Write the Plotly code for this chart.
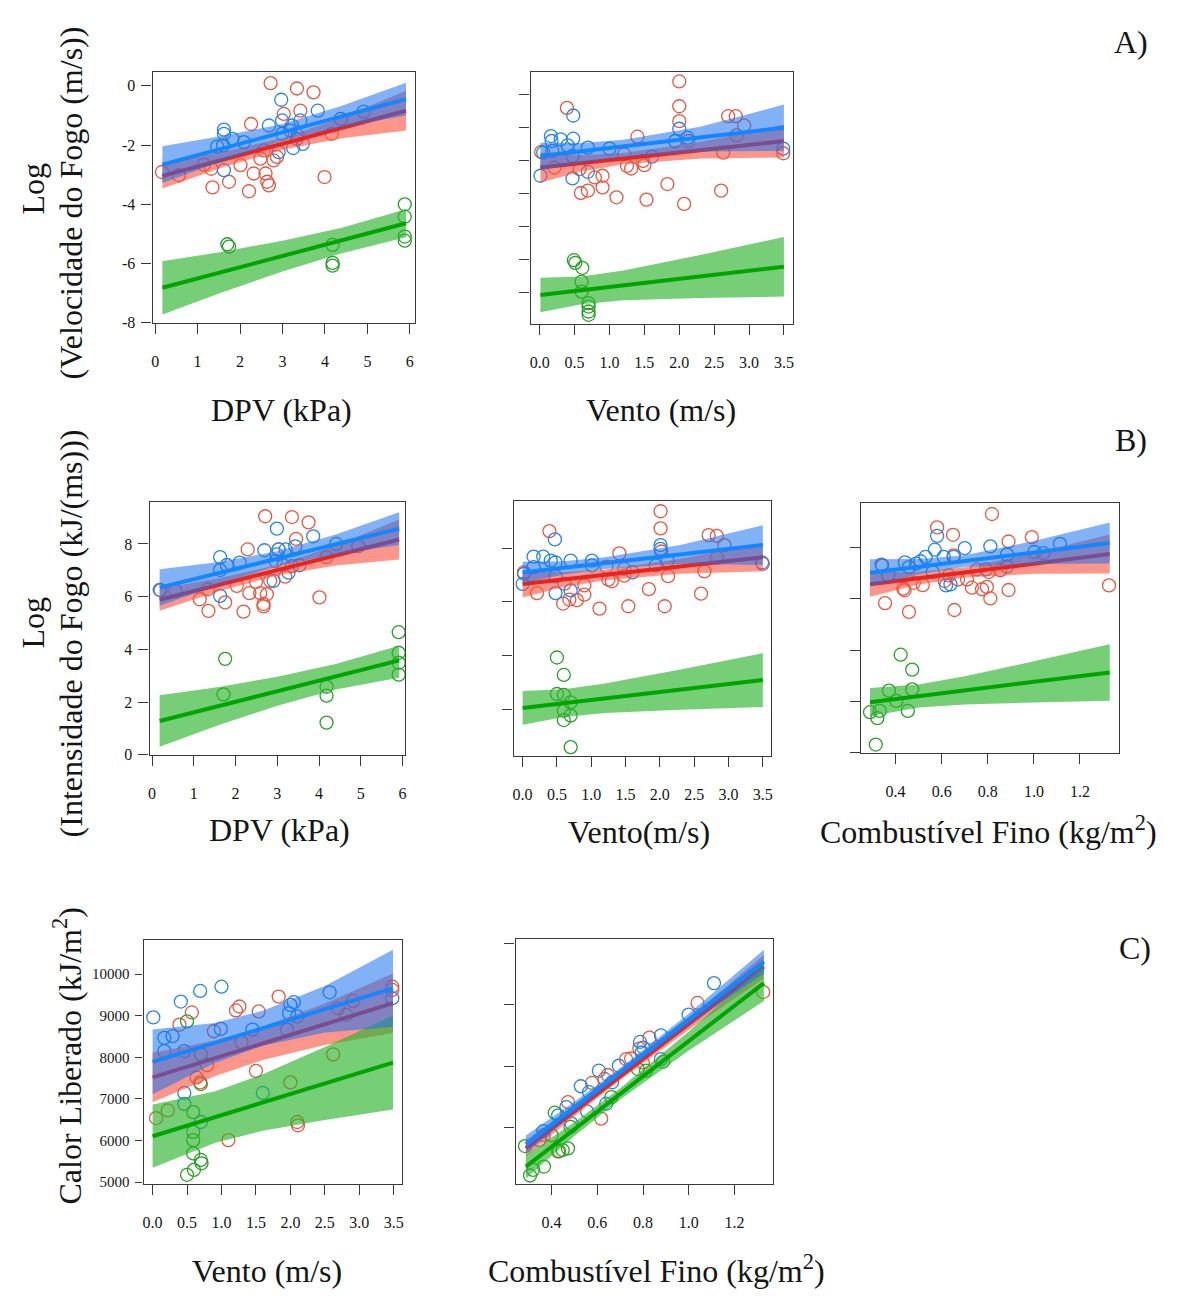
import plotly.graph_objects as go

# ===================== A1: Log(Velocidade do Fogo) x DPV =====================
A1_BLUE_X = [1.62, 1.62, 1.60, 1.62, 1.46, 1.82, 2.09, 2.68, 2.97, 2.99, 2.99, 3.22, 3.25, 3.34, 3.42, 3.48, 2.91, 3.83, 4.37, 4.91, 3.18]
A1_BLUE_Y = [-1.48, -1.62, -2.01, -2.85, -2.05, -1.79, -1.90, -1.34, -0.47, -1.17, -1.62, -1.34, -2.10, -1.79, -1.17, -1.96, -2.24, -0.84, -1.12, -0.87, -1.51]
A1_RED_X = [0.16, 0.56, 1.15, 1.32, 1.35, 1.74, 2.01, 2.21, 2.26, 2.32, 2.48, 2.56, 2.60, 2.64, 2.68, 2.72, 2.79, 2.87, 3.03, 3.34, 3.42, 3.73, 3.99, 4.16, 3.36]
A1_RED_Y = [-2.91, -3.02, -2.66, -2.80, -3.43, -3.24, -2.68, -3.56, -1.29, -2.96, -2.46, -2.18, -2.96, -3.24, -3.36, 0.09, -2.52, -2.40, -0.95, -0.09, -0.84, -0.22, -3.08, -1.62, -1.68]
A1_GREEN_X = [1.70, 1.74, 4.18, 4.18, 4.18, 5.88, 5.88, 5.88, 5.88]
A1_GREEN_Y = [-5.35, -5.43, -5.37, -5.98, -6.07, -4.00, -4.42, -5.09, -5.23]
A1_BAND_X = [0.17, 1.6, 3.0, 4.4, 5.91]
A1_BLUE_FIT = [-2.66, -2.11, -1.57, -1.03, -0.45]
A1_BLUE_HI = [-2.04, -1.69, -1.29, -0.67, 0.10]
A1_BLUE_LO = [-3.28, -2.53, -1.85, -1.39, -1.00]
A1_RED_FIT = [-3.04, -2.49, -1.96, -1.42, -0.84]
A1_RED_HI = [-2.61, -2.23, -1.76, -1.07, -0.17]
A1_RED_LO = [-3.47, -2.75, -2.16, -1.77, -1.51]
A1_GREEN_FIT = [-6.82, -6.28, -5.75, -5.22, -4.64]
A1_GREEN_HI = [-5.92, -5.60, -5.23, -4.79, -4.17]
A1_GREEN_LO = [-7.72, -6.96, -6.27, -5.65, -5.11]
A1_XTICKS = [0, 1, 2, 3, 4, 5, 6]
A1_YTICKS = [0, -2, -4, -6, -8]

# ===================== A2: Log(Velocidade do Fogo) x Vento =====================
A2_BLUE_X = [0.01, 0.05, 0.16, 0.17, 0.18, 0.30, 0.40, 0.48, 0.48, 0.47, 0.47, 0.69, 0.69, 1.00, 1.61, 1.94, 2.00, 2.12, 3.49]
A2_BLUE_Y = [-2.47, -1.77, -1.27, -1.42, -1.72, -1.37, -1.55, -1.35, -0.65, -1.87, -2.55, -1.62, -2.35, -1.65, -1.89, -1.42, -1.05, -1.32, -1.65]
A2_RED_X = [0.02, 0.21, 0.39, 0.57, 0.59, 0.69, 0.79, 0.90, 0.90, 1.10, 1.21, 1.25, 1.31, 1.40, 1.48, 1.50, 1.53, 1.83, 2.00, 2.00, 2.00, 2.07, 2.13, 2.60, 2.63, 2.70, 2.81, 2.82, 2.93, 3.49]
A2_RED_Y = [-1.75, -2.22, -0.42, -2.27, -2.99, -2.92, -2.52, -2.47, -2.82, -3.12, -1.82, -2.17, -2.25, -1.29, -2.02, -2.15, -3.19, -2.72, 0.38, -0.37, -0.82, -3.32, -1.42, -2.92, -1.77, -0.67, -0.67, -1.25, -0.95, -1.79]
A2_GREEN_X = [0.49, 0.51, 0.61, 0.60, 0.60, 0.70, 0.70, 0.70, 0.70]
A2_GREEN_Y = [-5.02, -5.10, -5.25, -5.67, -5.97, -6.32, -6.42, -6.57, -6.67]
A2_BAND_X = [0.01, 0.6, 1.2, 2.3, 3.5]
A2_BLUE_FIT = [-1.87, -1.73, -1.58, -1.31, -1.02]
A2_BLUE_HI = [-1.47, -1.48, -1.38, -0.99, -0.32]
A2_BLUE_LO = [-2.30, -2.08, -1.90, -1.74, -1.72]
A2_RED_FIT = [-2.22, -2.09, -1.95, -1.70, -1.42]
A2_RED_HI = [-1.77, -1.84, -1.78, -1.45, -0.92]
A2_RED_LO = [-2.67, -2.34, -2.12, -1.95, -1.92]
A2_GREEN_FIT = [-6.07, -5.93, -5.78, -5.51, -5.22]
A2_GREEN_HI = [-5.55, -5.51, -5.33, -4.86, -4.32]
A2_GREEN_LO = [-6.59, -6.35, -6.23, -6.16, -6.12]
A2_XTICKS = [0.0, 0.5, 1.0, 1.5, 2.0, 2.5, 3.0, 3.5]
A2_YTICKS = [0, -1, -2, -3, -4, -5, -6]

# ===================== B1: Log(Intensidade do Fogo) x DPV =====================
B1_BLUE_X = [0.18, 1.63, 1.63, 1.63, 1.79, 2.10, 2.69, 2.99, 2.99, 3.03, 2.91, 3.20, 3.43, 3.27, 3.35, 3.53, 3.86, 4.41, 4.94, 2.96]
B1_BLUE_Y = [6.26, 7.50, 7.01, 6.03, 7.20, 7.29, 7.76, 8.58, 7.60, 7.79, 6.60, 7.79, 7.91, 6.91, 7.16, 7.19, 8.29, 8.00, 7.91, 7.35]
B1_RED_X = [0.20, 0.56, 1.14, 1.34, 1.35, 1.75, 2.03, 2.19, 2.29, 2.33, 2.49, 2.59, 2.67, 2.67, 2.71, 2.75, 2.83, 3.03, 3.19, 3.35, 3.45, 3.75, 4.01, 4.18, 3.15]
B1_RED_Y = [6.24, 6.22, 5.90, 6.28, 5.46, 5.78, 6.41, 5.43, 7.79, 6.13, 6.56, 6.13, 5.72, 5.63, 9.05, 6.09, 6.60, 7.79, 6.76, 9.02, 8.19, 8.82, 5.97, 7.50, 7.19]
B1_GREEN_X = [1.75, 1.71, 4.18, 4.18, 4.18, 5.91, 5.91, 5.91, 5.91]
B1_GREEN_Y = [3.64, 2.29, 2.58, 2.24, 1.22, 4.65, 3.87, 3.49, 3.04]
B1_BAND_X = [0.18, 1.6, 3.0, 4.4, 5.92]
B1_BLUE_FIT = [6.34, 6.89, 7.44, 7.98, 8.58]
B1_BLUE_HI = [7.04, 7.31, 7.72, 8.36, 9.20]
B1_BLUE_LO = [5.64, 6.47, 7.16, 7.60, 7.96]
B1_RED_FIT = [5.88, 6.45, 7.00, 7.56, 8.17]
B1_RED_HI = [6.30, 6.70, 7.20, 7.94, 8.93]
B1_RED_LO = [5.46, 6.20, 6.80, 7.18, 7.41]
B1_GREEN_FIT = [1.28, 1.85, 2.41, 2.96, 3.58]
B1_GREEN_HI = [2.26, 2.57, 2.96, 3.44, 4.14]
B1_GREEN_LO = [0.30, 1.13, 1.86, 2.48, 2.92]
B1_XTICKS = [0, 1, 2, 3, 4, 5, 6]
B1_YTICKS = [0, 2, 4, 6, 8]

# ===================== B2: Log(Intensidade do Fogo) x Vento =====================
B2_BLUE_X = [0.00, 0.02, 0.16, 0.16, 0.30, 0.41, 0.47, 0.48, 0.48, 0.48, 0.70, 0.70, 1.01, 1.01, 1.60, 1.94, 2.01, 2.01, 2.11, 3.49]
B2_BLUE_Y = [6.67, 7.05, 7.30, 7.69, 7.69, 7.54, 8.33, 7.47, 6.95, 6.33, 7.54, 6.43, 7.54, 7.36, 7.10, 7.36, 8.12, 7.98, 7.54, 7.47]
B2_RED_X = [0.02, 0.21, 0.39, 0.59, 0.61, 0.68, 0.79, 0.90, 0.90, 1.12, 1.22, 1.25, 1.30, 1.41, 1.48, 1.48, 1.54, 1.84, 2.01, 2.01, 2.02, 2.07, 2.12, 2.60, 2.65, 2.71, 2.83, 2.83, 2.94, 3.50]
B2_RED_Y = [7.10, 6.33, 8.64, 5.94, 6.68, 6.09, 6.07, 6.62, 6.27, 5.75, 7.32, 6.83, 6.77, 7.81, 7.23, 6.98, 5.84, 6.48, 9.38, 8.74, 7.88, 5.84, 6.96, 6.31, 7.14, 8.49, 8.46, 7.65, 8.12, 7.42]
B2_GREEN_X = [0.50, 0.60, 0.50, 0.60, 0.70, 0.60, 0.70, 0.60, 0.70]
B2_GREEN_Y = [3.93, 3.28, 2.57, 2.54, 2.26, 1.95, 1.77, 1.60, 0.59]
B2_BAND_X = [0.0, 0.6, 1.2, 2.3, 3.5]
B2_BLUE_FIT = [7.10, 7.27, 7.45, 7.77, 8.12]
B2_BLUE_HI = [7.50, 7.52, 7.67, 8.12, 8.86]
B2_BLUE_LO = [6.70, 7.02, 7.23, 7.42, 7.38]
B2_RED_FIT = [6.67, 6.84, 7.01, 7.33, 7.67]
B2_RED_HI = [7.17, 7.12, 7.21, 7.61, 8.20]
B2_RED_LO = [6.17, 6.56, 6.81, 7.05, 7.14]
B2_GREEN_FIT = [2.05, 2.23, 2.41, 2.73, 3.09]
B2_GREEN_HI = [2.68, 2.75, 2.96, 3.48, 4.09]
B2_GREEN_LO = [1.42, 1.71, 1.86, 1.98, 2.09]
B2_XTICKS = [0.0, 0.5, 1.0, 1.5, 2.0, 2.5, 3.0, 3.5]
B2_YTICKS = [2, 4, 6, 8]

# ===================== B3: Log(Intensidade do Fogo) x Combustível Fino =====================
B3_BLUE_X = [0.339, 0.368, 0.440, 0.458, 0.489, 0.508, 0.530, 0.561, 0.570, 0.580, 0.609, 0.619, 0.638, 0.652, 0.700, 0.792, 0.811, 0.883, 0.883, 1.002, 1.041, 1.113]
B3_BLUE_Y = [7.33, 6.91, 7.42, 7.23, 7.37, 7.46, 7.63, 7.04, 7.91, 8.45, 7.63, 6.52, 6.56, 7.63, 7.97, 7.14, 8.04, 7.72, 7.25, 7.82, 7.78, 8.14]
B3_RED_X = [0.342, 0.354, 0.433, 0.439, 0.458, 0.479, 0.518, 0.580, 0.613, 0.631, 0.649, 0.652, 0.655, 0.671, 0.710, 0.731, 0.753, 0.775, 0.796, 0.804, 0.811, 0.818, 0.854, 0.890, 0.890, 0.991, 1.326]
B3_RED_Y = [7.29, 5.83, 6.39, 6.33, 5.49, 6.62, 6.53, 8.78, 6.69, 6.91, 8.49, 7.69, 5.56, 6.75, 6.75, 6.43, 7.14, 6.37, 6.46, 7.04, 6.01, 9.30, 7.11, 8.23, 6.34, 8.40, 6.52]
B3_GREEN_X = [0.289, 0.331, 0.321, 0.314, 0.371, 0.403, 0.422, 0.472, 0.472, 0.453]
B3_GREEN_Y = [1.58, 1.63, 1.35, 0.32, 2.42, 2.02, 3.82, 3.24, 2.47, 1.63]
B3_BAND_X = [0.289, 0.5, 0.7, 1.0, 1.329]
B3_BLUE_FIT = [7.01, 7.25, 7.47, 7.80, 8.17]
B3_BLUE_HI = [7.54, 7.55, 7.69, 8.25, 8.97]
B3_BLUE_LO = [6.48, 6.95, 7.25, 7.35, 7.37]
B3_RED_FIT = [6.56, 6.80, 7.03, 7.37, 7.74]
B3_RED_HI = [7.04, 7.05, 7.23, 7.77, 8.50]
B3_RED_LO = [6.08, 6.55, 6.83, 6.97, 6.98]
B3_GREEN_FIT = [1.97, 2.21, 2.43, 2.76, 3.13]
B3_GREEN_HI = [2.52, 2.66, 2.98, 3.56, 4.23]
B3_GREEN_LO = [1.42, 1.76, 1.88, 1.96, 2.03]
B3_XTICKS = [0.4, 0.6, 0.8, 1.0, 1.2]
B3_YTICKS = [0, 2, 4, 6, 8]

# ===================== C1: Calor Liberado x Vento =====================
C1_BLUE_X = [0.01, 0.17, 0.17, 0.29, 0.41, 0.46, 0.46, 0.46, 0.69, 1.00, 0.99, 0.70, 1.45, 1.60, 1.95, 2.00, 2.05, 1.98, 2.57, 3.48, 2.10]
C1_BLUE_Y = [8960, 8468, 8151, 8508, 9341, 8151, 7143, 6881, 9595, 9698, 8683, 6444, 8667, 7143, 8667, 9262, 9325, 9063, 9563, 9421, 8984]
C1_RED_X = [0.05, 0.22, 0.39, 0.57, 0.64, 0.69, 0.79, 0.89, 1.21, 1.26, 1.29, 1.50, 1.54, 1.83, 2.00, 2.10, 2.11, 2.69, 2.81, 2.91, 3.48, 3.48, 1.10, 2.62]
C1_RED_Y = [6540, 6722, 8786, 9079, 7516, 7397, 7810, 8627, 9127, 9222, 8365, 7675, 9103, 9460, 7397, 6444, 6365, 9183, 9024, 9357, 9698, 9619, 6008, 8071]
C1_GREEN_X = [0.50, 0.50, 0.59, 0.59, 0.59, 0.59, 0.60, 0.70, 0.70, 0.70, 0.71]
C1_GREEN_Y = [8865, 5175, 6683, 6206, 6008, 5690, 5294, 8071, 7357, 5532, 5452]
C1_BAND_X = [0.0, 0.9, 1.6, 2.5, 3.49]
C1_BLUE_FIT = [7889, 8345, 8700, 9157, 9659]
C1_BLUE_HI = [8667, 8825, 9120, 9717, 10587]
C1_BLUE_LO = [7111, 7865, 8280, 8597, 8731]
C1_RED_FIT = [7516, 7977, 8335, 8796, 9302]
C1_RED_HI = [8111, 8407, 8735, 9296, 10017]
C1_RED_LO = [6921, 7547, 7935, 8296, 8587]
C1_GREEN_FIT = [6103, 6559, 6914, 7370, 7873]
C1_GREEN_HI = [6863, 7179, 7594, 8250, 9003]
C1_GREEN_LO = [5343, 5939, 6234, 6490, 6743]
C1_XTICKS = [0.0, 0.5, 1.0, 1.5, 2.0, 2.5, 3.0, 3.5]
C1_YTICKS = [5000, 6000, 7000, 8000, 9000, 10000]

# ===================== C2: Calor Liberado x Combustível Fino =====================
C2_BLUE_X = [0.364, 0.429, 0.465, 0.487, 0.528, 0.555, 0.564, 0.607, 0.639, 0.665, 0.694, 0.787, 0.801, 0.794, 0.878, 0.878, 0.999, 1.110]
C2_BLUE_Y = [5911, 6299, 6501, 6097, 7010, 6396, 6864, 7389, 6582, 7107, 7510, 8092, 7955, 7834, 8254, 7672, 8762, 9530]
C2_RED_X = [0.346, 0.367, 0.429, 0.472, 0.577, 0.617, 0.646, 0.726, 0.748, 0.828, 0.784, 0.799, 1.038, 1.325, 0.632]
C2_RED_Y = [5693, 5814, 5410, 6622, 7090, 6218, 7284, 7672, 7688, 8197, 7931, 7591, 9045, 9312, 7187]
C2_GREEN_X = [0.284, 0.306, 0.320, 0.367, 0.400, 0.414, 0.433, 0.449, 0.472, 0.483, 0.661, 0.888, 0.777, 0.813]
C2_GREEN_Y = [5548, 4829, 4966, 5047, 5814, 6363, 5427, 5451, 5491, 6016, 6743, 7607, 7430, 7389]
C2_BAND_X = [0.288, 0.5, 0.7, 1.0, 1.328]
C2_BLUE_FIT = [5588, 6499, 7358, 8646, 10055]
C2_BLUE_HI = [5808, 6629, 7453, 8786, 10345]
C2_BLUE_LO = [5368, 6369, 7263, 8506, 9765]
C2_RED_FIT = [5491, 6397, 7251, 8533, 9934]
C2_RED_HI = [5691, 6517, 7341, 8673, 10224]
C2_RED_LO = [5291, 6277, 7161, 8393, 9644]
C2_GREEN_FIT = [5047, 5961, 6823, 8116, 9530]
C2_GREEN_HI = [5337, 6131, 6963, 8346, 9970]
C2_GREEN_LO = [4757, 5791, 6683, 7886, 9090]
C2_XTICKS = [0.4, 0.6, 0.8, 1.0, 1.2]
C2_YTICKS = [6000, 7500, 9000, 10500]

# ===================== styling =====================
W, H = 1183, 1300
FONT = "Liberation Serif, Times New Roman, serif"
INK = "#151515"
AXC = "#3a3a3a"

RED_PT, BLUE_PT, GREEN_PT = "rgb(232,88,64)", "rgb(38,134,230)", "rgb(40,160,40)"
RED_LN, BLUE_LN, GREEN_LN = "rgb(235,35,30)", "rgb(20,135,255)", "rgb(0,165,0)"
RED_BD, BLUE_BD, GREEN_BD = "rgba(250,80,60,0.6)", "rgba(25,115,240,0.55)", "rgba(45,180,45,0.65)"

fig = go.Figure()


def fx(p):
    return p / W


def fy(p):
    return 1 - p / H


def add_panel(idx, box, xr, yr, xticks, yticks, xlabels, ylabels, band_x,
              pts, fits, xfmt=None, ysize=16, ylen=10):
    xa = "x" if idx == 1 else f"x{idx}"
    ya = "y" if idx == 1 else f"y{idx}"
    common = dict(xaxis=xa, yaxis=ya, showlegend=False, hoverinfo="skip")
    # open-circle observations
    for xs, ys, col in pts:
        fig.add_trace(go.Scatter(x=xs, y=ys, mode="markers",
                                 marker=dict(symbol="circle-open", size=13, color=col,
                                             line=dict(width=1.3, color=col)), **common))
    # confidence ribbons and fitted lines (red, green, blue stacking order)
    for fit, lo, hi, bcol, lcol in fits:
        fig.add_trace(go.Scatter(x=band_x + band_x[::-1], y=hi + lo[::-1], mode="lines",
                                 fill="toself", fillcolor=bcol,
                                 line=dict(width=0, color=bcol), **common))
        fig.add_trace(go.Scatter(x=band_x, y=fit, mode="lines",
                                 line=dict(color=lcol, width=4), **common))
    l, t, r, b = box
    base = dict(showline=True, mirror=True, linecolor=AXC, linewidth=1.4,
                ticks="outside", tickwidth=1.4, tickcolor=AXC, showgrid=False,
                zeroline=False, tickfont=dict(family=FONT, size=16, color=INK))
    xaxis = dict(base, domain=[fx(l), fx(r)], anchor=ya, range=xr, tickvals=xticks,
                 ticklen=10, ticklabelstandoff=14, showticklabels=xlabels)
    if xfmt:
        xaxis["ticktext"] = [format(v, xfmt) for v in xticks]
    else:
        xaxis["ticktext"] = [str(v) for v in xticks]
    yaxis = dict(base, domain=[fy(b), fy(t)], anchor=xa, range=yr, tickvals=yticks,
                 ticktext=[str(v) for v in yticks], ticklen=ylen, ticklabelstandoff=3,
                 showticklabels=ylabels)
    yaxis["tickfont"] = dict(family=FONT, size=ysize, color=INK)
    key = "" if idx == 1 else str(idx)
    fig.update_layout(**{f"xaxis{key}": xaxis, f"yaxis{key}": yaxis})


def fits_of(rf, rl, rh, gf, gl, gh, bf, bl, bh):
    return [(rf, rl, rh, RED_BD, RED_LN),
            (gf, gl, gh, GREEN_BD, GREEN_LN),
            (bf, bl, bh, BLUE_BD, BLUE_LN)]


add_panel(1, (152, 73, 415, 325), [-0.06, 6.12], [-8, 0.45], A1_XTICKS, A1_YTICKS, True, True,
          A1_BAND_X,
          [(A1_RED_X, A1_RED_Y, RED_PT), (A1_BLUE_X, A1_BLUE_Y, BLUE_PT), (A1_GREEN_X, A1_GREEN_Y, GREEN_PT)],
          fits_of(A1_RED_FIT, A1_RED_LO, A1_RED_HI, A1_GREEN_FIT, A1_GREEN_LO, A1_GREEN_HI,
                  A1_BLUE_FIT, A1_BLUE_LO, A1_BLUE_HI))
add_panel(2, (531, 73, 794, 326), [-0.13, 3.63], [-6.94, 0.65], A2_XTICKS, A2_YTICKS, True, False,
          A2_BAND_X,
          [(A2_RED_X, A2_RED_Y, RED_PT), (A2_BLUE_X, A2_BLUE_Y, BLUE_PT), (A2_GREEN_X, A2_GREEN_Y, GREEN_PT)],
          fits_of(A2_RED_FIT, A2_RED_LO, A2_RED_HI, A2_GREEN_FIT, A2_GREEN_LO, A2_GREEN_HI,
                  A2_BLUE_FIT, A2_BLUE_LO, A2_BLUE_HI), xfmt=".1f")
add_panel(3, (149, 505, 405, 760), [-0.06, 6.06], [0, 9.61], B1_XTICKS, B1_YTICKS, True, True,
          B1_BAND_X,
          [(B1_RED_X, B1_RED_Y, RED_PT), (B1_BLUE_X, B1_BLUE_Y, BLUE_PT), (B1_GREEN_X, B1_GREEN_Y, GREEN_PT)],
          fits_of(B1_RED_FIT, B1_RED_LO, B1_RED_HI, B1_GREEN_FIT, B1_GREEN_LO, B1_GREEN_HI,
                  B1_BLUE_FIT, B1_BLUE_LO, B1_BLUE_HI))
add_panel(4, (514, 504, 772, 761), [-0.13, 3.62], [0.27, 9.78], B2_XTICKS, B2_YTICKS, True, False,
          B2_BAND_X,
          [(B2_RED_X, B2_RED_Y, RED_PT), (B2_BLUE_X, B2_BLUE_Y, BLUE_PT), (B2_GREEN_X, B2_GREEN_Y, GREEN_PT)],
          fits_of(B2_RED_FIT, B2_RED_LO, B2_RED_HI, B2_GREEN_FIT, B2_GREEN_LO, B2_GREEN_HI,
                  B2_BLUE_FIT, B2_BLUE_LO, B2_BLUE_HI), xfmt=".1f")
add_panel(5, (862, 507, 1121, 758), [0.249, 1.37], [0, 9.71], B3_XTICKS, B3_YTICKS, True, False,
          B3_BAND_X,
          [(B3_RED_X, B3_RED_Y, RED_PT), (B3_BLUE_X, B3_BLUE_Y, BLUE_PT), (B3_GREEN_X, B3_GREEN_Y, GREEN_PT)],
          fits_of(B3_RED_FIT, B3_RED_LO, B3_RED_HI, B3_GREEN_FIT, B3_GREEN_LO, B3_GREEN_HI,
                  B3_BLUE_FIT, B3_BLUE_LO, B3_BLUE_HI), xfmt=".1f")
add_panel(6, (143, 947, 402, 1192), [-0.13, 3.62], [4960, 10810], C1_XTICKS, C1_YTICKS, True, True,
          C1_BAND_X,
          [(C1_RED_X, C1_RED_Y, RED_PT), (C1_BLUE_X, C1_BLUE_Y, BLUE_PT), (C1_GREEN_X, C1_GREEN_Y, GREEN_PT)],
          fits_of(C1_RED_FIT, C1_RED_LO, C1_RED_HI, C1_GREEN_FIT, C1_GREEN_LO, C1_GREEN_HI,
                  C1_BLUE_FIT, C1_BLUE_LO, C1_BLUE_HI), xfmt=".1f", ysize=15, ylen=7)
add_panel(7, (516, 946, 774, 1192), [0.2435, 1.368], [4627, 10597], C2_XTICKS, C2_YTICKS, True, False,
          C2_BAND_X,
          [(C2_RED_X, C2_RED_Y, RED_PT), (C2_BLUE_X, C2_BLUE_Y, BLUE_PT), (C2_GREEN_X, C2_GREEN_Y, GREEN_PT)],
          fits_of(C2_RED_FIT, C2_RED_LO, C2_RED_HI, C2_GREEN_FIT, C2_GREEN_LO, C2_GREEN_HI,
                  C2_BLUE_FIT, C2_BLUE_LO, C2_BLUE_HI), xfmt=".1f")

# ===================== axis titles and panel letters =====================
TEXTS = [
    ("DPV (kPa)", 281, 413, 0),
    ("Vento (m/s)", 662, 413, 0),
    ("DPV (kPa)", 279, 836, 0),
    ("Vento(m/s)", 640, 838, 0),
    ("Combustível Fino (kg/m<sup>2</sup>)", 990, 836, 0),
    ("Vento (m/s)", 267, 1280, 0),
    ("Combustível Fino (kg/m<sup>2</sup>)", 657, 1278, 0),
    ("A)", 1133, 42, 0),
    ("B)", 1133, 443, 0),
    ("C)", 1137, 955, 0),
    ("Log", 32, 190, -90),
    ("(Velocidade do Fogo (m/s))", 70, 204, -90),
    ("Log", 32, 627, -90),
    ("(Intensidade do Fogo (kJ/(ms)))", 70, 638, -90),
    ("Calor Liberado (kJ/m<sup>2</sup>)", 66, 1063, -90),
]
for txt, px_, py_, ang in TEXTS:
    fig.add_annotation(text=txt, x=fx(px_), y=fy(py_), xref="paper", yref="paper",
                       xanchor="center", yanchor="middle", showarrow=False, textangle=ang,
                       font=dict(family=FONT, size=32, color=INK))

fig.update_layout(width=W, height=H, autosize=False,
                  margin=dict(l=0, r=0, t=0, b=0),
                  paper_bgcolor="white", plot_bgcolor="white", showlegend=False)

fig.write_html("out.html")
